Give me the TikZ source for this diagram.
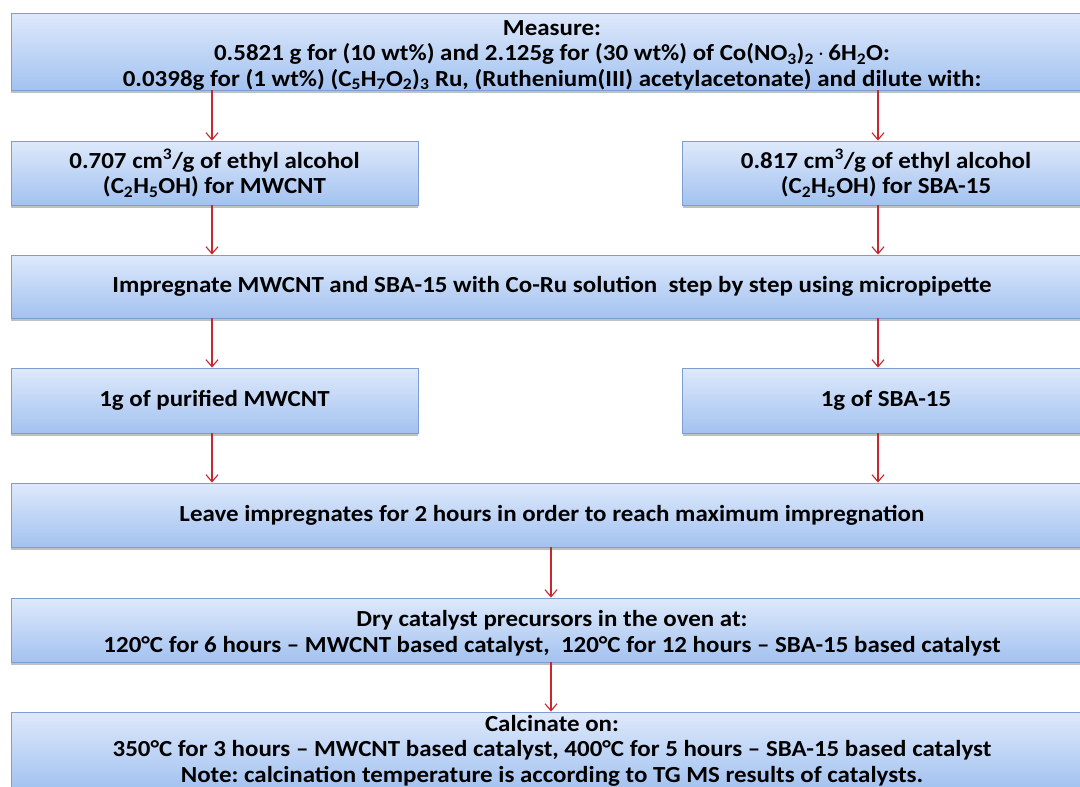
\documentclass[tikz,border=0pt]{standalone}
\usepackage{fontspec}
\setmainfont{Carlito}[FakeStretch=1.085]
\usetikzlibrary{arrows.meta,shadows}
\definecolor{boxtop}{RGB}{222,233,251}
\definecolor{boxbot}{RGB}{163,194,240}
\definecolor{boxline}{RGB}{126,158,210}
\definecolor{arrred}{RGB}{200,40,45}
\frenchspacing
\newcommand{\myraise}[1]{\rule{0pt}{#1}}
\tikzset{
  flowbox/.style={draw=boxline, line width=0.9pt, top color=boxtop, bottom color=boxbot,
    align=center, inner sep=0pt, font=\fontsize{23}{25.5}\selectfont\bfseries,
    drop shadow={shadow xshift=0pt, shadow yshift=-2.5pt, opacity=0.35, fill=black!70}},
  wide/.style={flowbox, minimum width=1082pt},
  half/.style={flowbox, minimum width=407pt},
  arr/.style={draw=arrred, line width=1.1pt, -{Straight Barb[length=7pt,width=12pt,line width=1.1pt]}}
}
\begin{document}
\begin{tikzpicture}[x=1pt,y=-1pt]
\useasboundingbox (0,0) rectangle (1080,787);
\clip (0,0) rectangle (1080,787);
\fill[white] (0,0) rectangle (1080,787);
\node[wide, minimum height=77pt] (top) at (552,51.5)
  {\myraise{22pt}Measure:\\
   0.5821 g for (10 wt\%) and 2.125g for (30 wt\%) of Co(NO\textsubscript{3})\textsubscript{2}\,$\cdot$\,6H\textsubscript{2}O:\\
   0.0398g for (1 wt\%) (C\textsubscript{5}H\textsubscript{7}O\textsubscript{2})\textsubscript{3} Ru, (Ruthenium(III) acetylacetonate) and dilute with:};
\node[half, minimum height=64pt] (l2) at (214.5,173)
  {0.707 cm\textsuperscript{3}/g of ethyl alcohol\\ (C\textsubscript{2}H\textsubscript{5}OH) for MWCNT};
\node[half, minimum height=64pt] (r2) at (886,173)
  {0.817 cm\textsuperscript{3}/g of ethyl alcohol\\ (C\textsubscript{2}H\textsubscript{5}OH) for SBA-15};
\node[wide, minimum height=63pt] (imp) at (552,286.5)
  {Impregnate MWCNT and SBA-15 with Co-Ru solution\ \ step by step using micropipette};
\node[half, minimum height=65pt] (l4) at (214.5,400.5) {1g of purified MWCNT};
\node[half, minimum height=65pt] (r4) at (886,400.5) {1g of SBA-15};
\node[wide, minimum height=64pt] (leave) at (552,515)
  {Leave impregnates for 2 hours in order to reach maximum impregnation};
\node[wide, minimum height=64pt] (dry) at (552,630)
  {\myraise{23pt}Dry catalyst precursors in the oven at:\\
   120\textdegree C for 6 hours -- MWCNT based catalyst,\ \ 120\textdegree C for 12 hours -- SBA-15 based catalyst};
\node[wide, minimum height=77pt] (calc) at (552,750.5)
  {Calcinate on:\\
   350\textdegree C for 3 hours -- MWCNT based catalyst, 400\textdegree C for 5 hours -- SBA-15 based catalyst\\
   Note: calcination temperature is according to TG MS results of catalysts.};
\coordinate (la) at (212,0);
\coordinate (ra) at (878,0);
\coordinate (ca) at (551,0);
\draw[arr] (top.south -| la) -- (l2.north -| la);
\draw[arr] (top.south -| ra) -- (r2.north -| ra);
\draw[arr] (l2.south -| la) -- (imp.north -| la);
\draw[arr] (r2.south -| ra) -- (imp.north -| ra);
\draw[arr] (imp.south -| la) -- (l4.north -| la);
\draw[arr] (imp.south -| ra) -- (r4.north -| ra);
\draw[arr] (l4.south -| la) -- (leave.north -| la);
\draw[arr] (r4.south -| ra) -- (leave.north -| ra);
\draw[arr] (leave.south -| ca) -- (dry.north -| ca);
\draw[arr] (dry.south -| ca) -- (calc.north -| ca);
\end{tikzpicture}
\end{document}
